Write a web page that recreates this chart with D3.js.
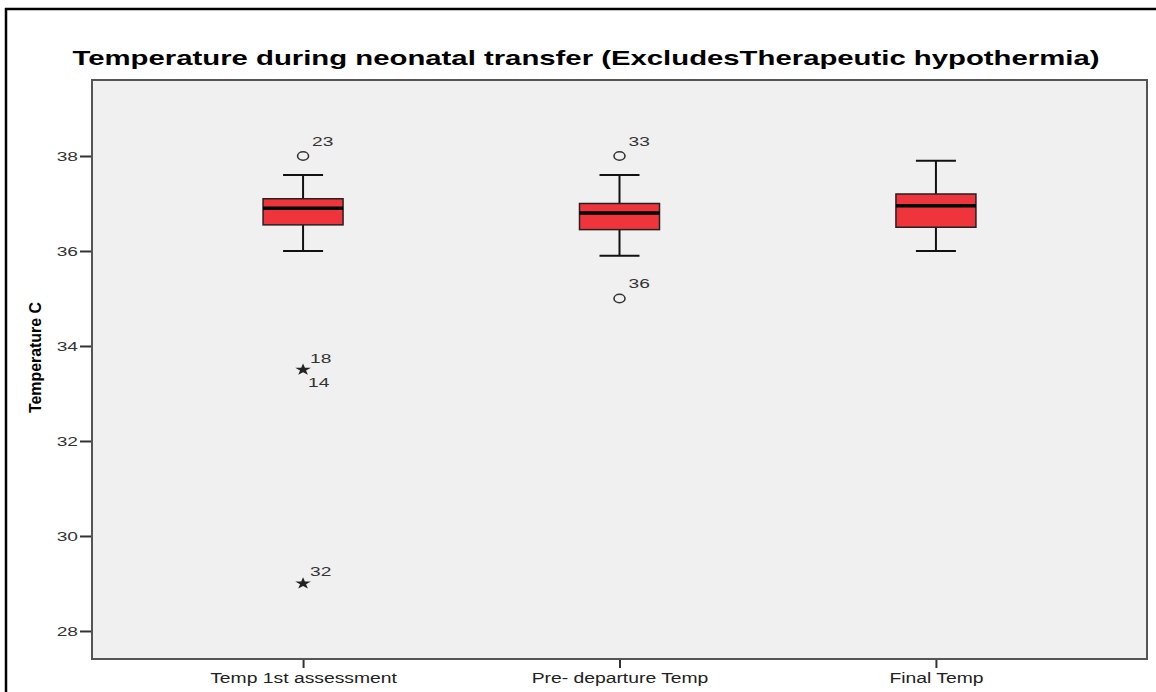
<!DOCTYPE html>
<html>
<head>
<meta charset="utf-8">
<script src="https://cdn.jsdelivr.net/npm/d3@7"></script>
<style>
  html, body { margin: 0; padding: 0; background: #ffffff; }
  svg { display: block; }
  text { font-family: "Liberation Sans", Arial, sans-serif; }
</style>
</head>
<body>
<svg id="chart" width="1156" height="692"></svg>
<script>
// Temperature readings (°C) at three stages of neonatal transfer
const categories = ["Temp 1st assessment", "Pre- departure Temp", "Final Temp"];
const whiskerLow  = [36.0, 35.9, 36.0];
const q1          = [36.55, 36.45, 36.5];
const medians     = [36.9, 36.8, 36.95];
const q3          = [37.1, 37.0, 37.2];
const whiskerHigh = [37.6, 37.6, 37.9];

// Outliers (circles) and extreme values (stars), labelled by case number
const outlierCat   = [0, 1, 1];
const outlierValue = [38.0, 38.0, 35.0];
const outlierCase  = ["23", "33", "36"];

const extremeCat   = [0, 0, 0];
const extremeValue = [33.5, 33.5, 29.0];
const extremeCase  = ["18", "14", "32"];

const yTicks = [28, 30, 32, 34, 36, 38];

const svg = d3.select("#chart");
const W = 1156, H = 692;
const plot = { left: 92, top: 80, right: 1147, bottom: 659 };
const sx = 1.38;            // horizontal glyph stretch used throughout the chart

// Outer frame (left and top rules)
svg.append("line").attr("x1", 6).attr("x2", 6).attr("y1", 8).attr("y2", H)
  .attr("stroke", "#000").attr("stroke-width", 2.5);
svg.append("line").attr("x1", 5).attr("x2", W).attr("y1", 9).attr("y2", 9)
  .attr("stroke", "#000").attr("stroke-width", 2.5);

// Plot background
svg.append("rect")
  .attr("x", plot.left).attr("y", plot.top)
  .attr("width", plot.right - plot.left).attr("height", plot.bottom - plot.top)
  .attr("fill", "#f0f0f0");

const y = d3.scaleLinear().domain([27.41, 39.6]).range([plot.bottom, plot.top]);
const x = d3.scalePoint().domain(categories).range([plot.left, plot.right]).padding(0.667);

// Stretched text helper
function stext(g, px, py, str, anchor, opts = {}) {
  const t = g.append("text")
    .attr("transform", `translate(${px},${py}) scale(${opts.sx || sx},1)`)
    .attr("text-anchor", anchor)
    .attr("font-size", opts.size || 13)
    .attr("fill", opts.fill || "#222")
    .text(str);
  if (opts.bold) t.attr("font-weight", "bold");
  return t;
}

// Title
svg.append("text")
  .attr("x", 586).attr("y", 65)
  .attr("text-anchor", "middle")
  .attr("font-size", 20.5).attr("font-weight", "bold").attr("fill", "#000")
  .attr("textLength", 1027).attr("lengthAdjust", "spacingAndGlyphs")
  .text("Temperature during neonatal transfer (ExcludesTherapeutic hypothermia)");

// Y axis
const yAxis = d3.axisLeft(y).tickValues(yTicks).tickSize(12).tickPadding(2).tickFormat(d3.format("d"));
const yg = svg.append("g").attr("transform", `translate(${plot.left},0)`).call(yAxis);
yg.select(".domain").remove();
yg.selectAll(".tick line").attr("stroke", "#333").attr("stroke-width", 2);
yg.selectAll(".tick text").remove();
yg.selectAll(".tick").each(function(d) {
  stext(d3.select(this), -14, 5, d3.format("d")(d), "end", { fill: "#333", size: 13.5, sx: 1.42 });
});

// Y axis title
svg.append("text")
  .attr("transform", `translate(41,${(302 + 413) / 2}) rotate(-90)`)
  .attr("text-anchor", "middle")
  .attr("font-size", 17).attr("font-weight", "bold").attr("fill", "#000")
  .attr("textLength", 111).attr("lengthAdjust", "spacingAndGlyphs")
  .text("Temperature C");

// X axis
const xAxis = d3.axisBottom(x).tickSize(9).tickPadding(0);
const xg = svg.append("g").attr("transform", `translate(0,${plot.bottom})`).call(xAxis);
xg.select(".domain").remove();
xg.selectAll(".tick line").attr("stroke", "#333").attr("stroke-width", 2);
xg.selectAll(".tick text").remove();
xg.selectAll(".tick").each(function(d) {
  stext(d3.select(this), 0, 24, d, "middle", { fill: "#222", size: 14 });
});

// Plot frame
svg.append("rect")
  .attr("x", plot.left).attr("y", plot.top)
  .attr("width", plot.right - plot.left).attr("height", plot.bottom - plot.top)
  .attr("fill", "none").attr("stroke", "#555").attr("stroke-width", 2);

// Box plots
const boxW = 80, capW = 40;
const boxes = svg.append("g");
categories.forEach((c, i) => {
  const cx = x(c);
  const g = boxes.append("g");
  // whiskers
  g.append("line").attr("x1", cx).attr("x2", cx).attr("y1", y(whiskerHigh[i])).attr("y2", y(q3[i]))
    .attr("stroke", "#111").attr("stroke-width", 2);
  g.append("line").attr("x1", cx).attr("x2", cx).attr("y1", y(q1[i])).attr("y2", y(whiskerLow[i]))
    .attr("stroke", "#111").attr("stroke-width", 2);
  // caps
  [whiskerHigh[i], whiskerLow[i]].forEach(v => {
    g.append("line").attr("x1", cx - capW / 2).attr("x2", cx + capW / 2).attr("y1", y(v)).attr("y2", y(v))
      .attr("stroke", "#111").attr("stroke-width", 2);
  });
  // box
  g.append("rect")
    .attr("x", cx - boxW / 2).attr("y", y(q3[i]))
    .attr("width", boxW).attr("height", y(q1[i]) - y(q3[i]))
    .attr("fill", "#f0343b").attr("stroke", "#222").attr("stroke-width", 1.5);
  // median
  g.append("line").attr("x1", cx - boxW / 2).attr("x2", cx + boxW / 2)
    .attr("y1", y(medians[i])).attr("y2", y(medians[i]))
    .attr("stroke", "#000").attr("stroke-width", 3.5);
});

// Outliers
const marks = svg.append("g");
outlierValue.forEach((v, i) => {
  const cx = x(categories[outlierCat[i]]), cy = y(v);
  marks.append("ellipse").attr("cx", cx).attr("cy", cy).attr("rx", 5.5).attr("ry", 4.2)
    .attr("fill", "none").attr("stroke", "#333").attr("stroke-width", 1.6);
  stext(marks, cx + 9, cy - 10, outlierCase[i], "start", { fill: "#333", size: 13.5, sx: 1.42 });
});

// Extreme values
const star = d3.symbol().type(d3.symbolStar).size(45);
const seen = {};
extremeValue.forEach((v, i) => {
  const cx = x(categories[extremeCat[i]]), cy = y(v);
  const key = extremeCat[i] + ":" + v;
  const below = seen[key];
  seen[key] = true;
  if (!below) {
    marks.append("path").attr("d", star).attr("transform", `translate(${cx},${cy}) scale(1.3,1)`)
      .attr("fill", "#222");
    stext(marks, cx + 7, cy - 7, extremeCase[i], "start", { fill: "#333", size: 13.5, sx: 1.42 });
  } else {
    stext(marks, cx + 5, cy + 17, extremeCase[i], "start", { fill: "#333", size: 13.5, sx: 1.42 });
  }
});
</script>
</body>
</html>
